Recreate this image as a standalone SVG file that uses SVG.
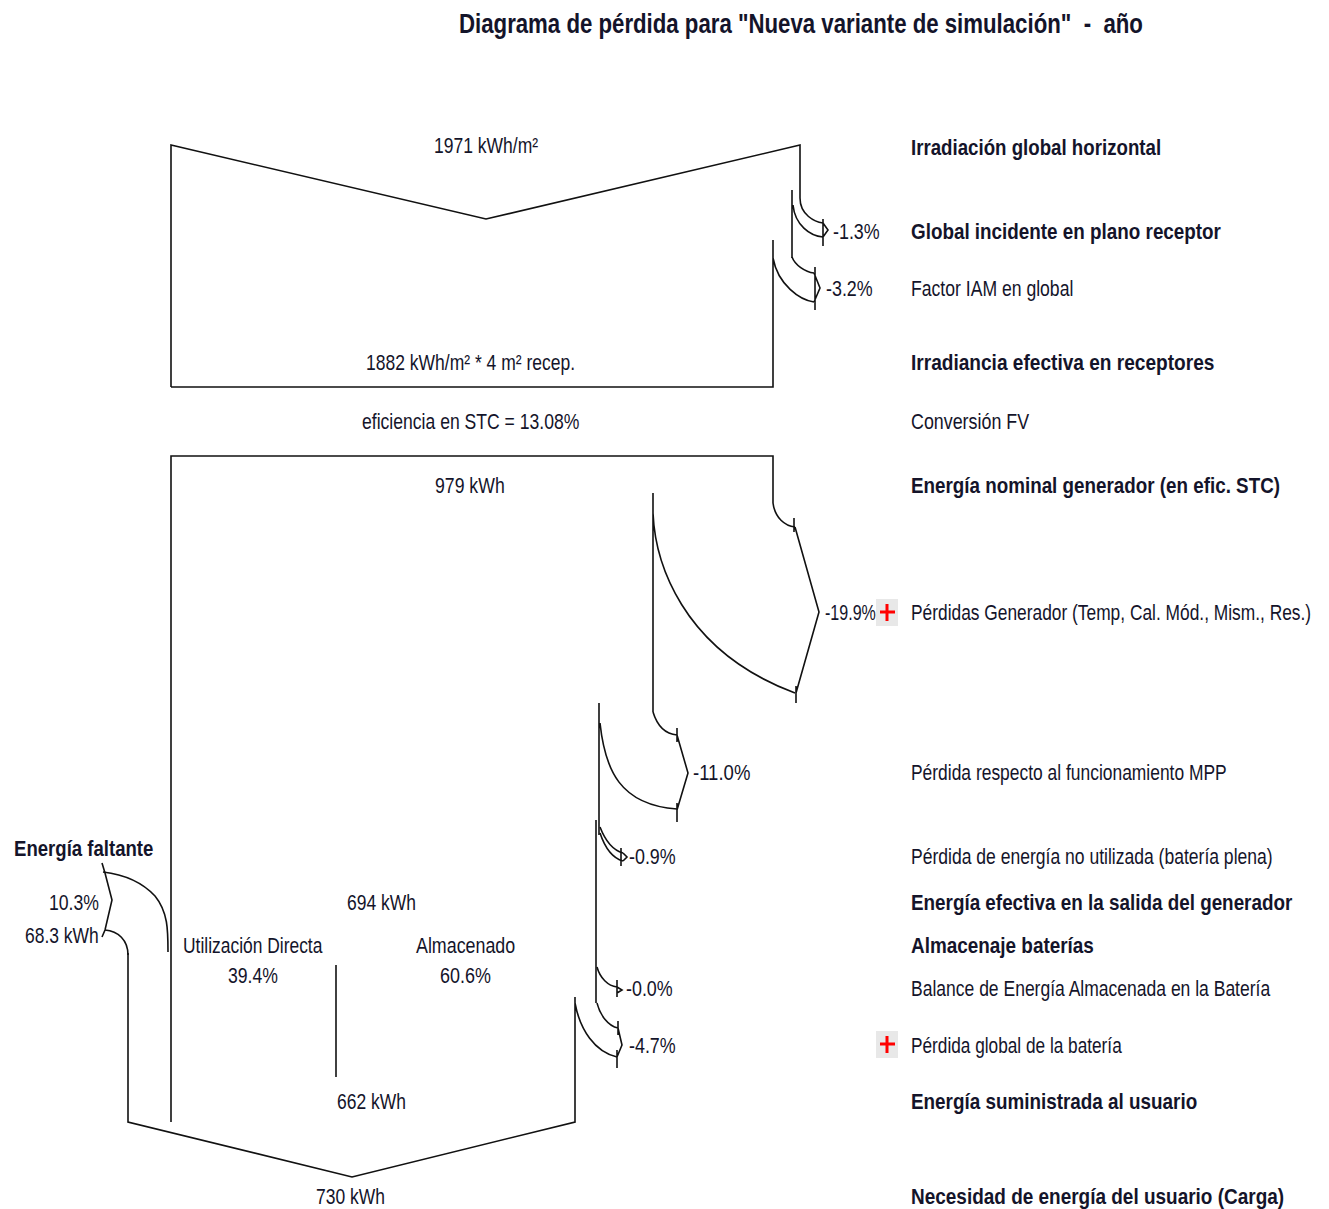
<svg xmlns="http://www.w3.org/2000/svg" width="1329" height="1209" viewBox="0 0 1329 1209">
<style>
text{font-family:"Liberation Sans",Arial,sans-serif;font-size:22px;fill:#14142a}
.b{font-weight:bold}
.t{font-weight:bold;font-size:28px}
.ln{fill:none;stroke:#111;stroke-width:1.6}
.plus{fill:#e8e8e8}
.pl{stroke:#f00;stroke-width:3}
</style>
<rect width="1329" height="1209" fill="#fff"/>
<g id="title">
<text class="t" transform="translate(459,33) scale(.82,1)" textLength="834" lengthAdjust="spacingAndGlyphs">Diagrama de pérdida para "Nueva variante de simulación"&#160;&#160;-&#160;&#160;año</text>
</g>
<g id="connectors">
<path class="ln" d="M171,387 V145 L486,219 L800,145 V198 C800,215 815,222 823,223"/>
<path class="ln" d="M792,190 V258 M793,205 C795,225 810,236 823,237"/>
<path class="ln" d="M823,219 V246 M823,223 L828,230 L823,237"/>
<path class="ln" d="M792,257 C795,265 805,272 814,273"/>
<path class="ln" d="M773,240 V387 H171 M773,258 C778,285 800,300 814,302"/>
<path class="ln" d="M815,267 V310 M814,273 L820,288 L814,302"/>
<path class="ln" d="M171,1122 V456 H773 V503 C775,518 785,526 795,527"/>
<path class="ln" d="M794,518 V532 M795,527 L819,612 L796,693 M796,686 V703"/>
<path class="ln" d="M653,493 V712 M653,513 C655,560 680,650 795,693"/>
<path class="ln" d="M653,712 C657,725 665,734 677,735 M677,728 V742 M677,735 L688,773 L677,810 M677,803 V822"/>
<path class="ln" d="M599,703 V835 M600,723 C605,770 620,805 677,809"/>
<path class="ln" d="M596,820 V1003 M600,827 C605,840 612,850 623,853 M600,833 C605,848 612,858 623,861"/>
<path class="ln" d="M621,848 V866 M623,853 L627,857 L623,861"/>
<path class="ln" d="M597,967 C600,978 608,986 617,987 M617,980 V997 M617,987 L622,990 L617,993"/>
<path class="ln" d="M597,1003 C600,1015 608,1026 618,1028 M618,1021 V1035 M618,1028 L622,1045 L617,1057 M617,1050 V1068"/>
<path class="ln" d="M575,997 V1122 L352,1177 L128,1122 V953 M575,1003 C580,1030 595,1052 617,1057"/>
<path class="ln" d="M103,872 C120,874 140,880 155,896 C168,912 168,930 168,952"/>
<path class="ln" d="M102,863 L105,873 L112,900 L105,930 L102,937"/>
<path class="ln" d="M105,930 C118,931 128,940 128,955"/>
<path class="ln" d="M336,965 V1077"/>
</g>
<g id="plus1"><rect class="plus" x="876" y="599" width="22" height="27"/><path class="pl" d="M880,612 H895 M887,604 V621"/></g>
<g id="plus2"><rect class="plus" x="876" y="1031" width="22" height="27"/><path class="pl" d="M880,1044 H895 M887,1036 V1053"/></g>
<g id="flow-labels">
<text transform="translate(434,153) scale(.82,1)" textLength="127" lengthAdjust="spacingAndGlyphs">1971 kWh/m²</text>
<text transform="translate(366,370) scale(.82,1)" textLength="255" lengthAdjust="spacingAndGlyphs">1882 kWh/m² * 4 m² recep.</text>
<text transform="translate(362,429) scale(.82,1)" textLength="265" lengthAdjust="spacingAndGlyphs">eficiencia en STC = 13.08%</text>
<text transform="translate(435,493) scale(.82,1)" textLength="85" lengthAdjust="spacingAndGlyphs">979 kWh</text>
<text transform="translate(347,910) scale(.82,1)" textLength="84" lengthAdjust="spacingAndGlyphs">694 kWh</text>
<text transform="translate(183,953) scale(.82,1)" textLength="170" lengthAdjust="spacingAndGlyphs">Utilización Directa</text>
<text transform="translate(228,983) scale(.82,1)" textLength="61" lengthAdjust="spacingAndGlyphs">39.4%</text>
<text transform="translate(416,953) scale(.82,1)" textLength="121" lengthAdjust="spacingAndGlyphs">Almacenado</text>
<text transform="translate(440,983) scale(.82,1)" textLength="62" lengthAdjust="spacingAndGlyphs">60.6%</text>
<text transform="translate(337,1109) scale(.82,1)" textLength="84" lengthAdjust="spacingAndGlyphs">662 kWh</text>
<text transform="translate(316,1204) scale(.82,1)" textLength="84" lengthAdjust="spacingAndGlyphs">730 kWh</text>
<text class="b" transform="translate(14,856) scale(.82,1)" textLength="170" lengthAdjust="spacingAndGlyphs">Energía faltante</text>
<text transform="translate(49,910) scale(.82,1)" textLength="61" lengthAdjust="spacingAndGlyphs">10.3%</text>
<text transform="translate(25,943) scale(.82,1)" textLength="90" lengthAdjust="spacingAndGlyphs">68.3 kWh</text>
<text transform="translate(833,239) scale(.82,1)" textLength="57" lengthAdjust="spacingAndGlyphs">-1.3%</text>
<text transform="translate(826,296) scale(.82,1)" textLength="57" lengthAdjust="spacingAndGlyphs">-3.2%</text>
<text transform="translate(825,620) scale(.82,1)" textLength="62" lengthAdjust="spacingAndGlyphs">-19.9%</text>
<text transform="translate(693,780) scale(.82,1)" textLength="70" lengthAdjust="spacingAndGlyphs">-11.0%</text>
<text transform="translate(629,864) scale(.82,1)" textLength="57" lengthAdjust="spacingAndGlyphs">-0.9%</text>
<text transform="translate(626,996) scale(.82,1)" textLength="57" lengthAdjust="spacingAndGlyphs">-0.0%</text>
<text transform="translate(629,1053) scale(.82,1)" textLength="57" lengthAdjust="spacingAndGlyphs">-4.7%</text>
</g>
<g id="step-labels">
<text class="b" transform="translate(911,155) scale(.82,1)" textLength="305" lengthAdjust="spacingAndGlyphs">Irradiación global horizontal</text>
<text class="b" transform="translate(911,239) scale(.82,1)" textLength="378" lengthAdjust="spacingAndGlyphs">Global incidente en plano receptor</text>
<text transform="translate(911,296) scale(.82,1)" textLength="198" lengthAdjust="spacingAndGlyphs">Factor IAM en global</text>
<text class="b" transform="translate(911,370) scale(.82,1)" textLength="370" lengthAdjust="spacingAndGlyphs">Irradiancia efectiva en receptores</text>
<text transform="translate(911,429) scale(.82,1)" textLength="144" lengthAdjust="spacingAndGlyphs">Conversión FV</text>
<text class="b" transform="translate(911,493) scale(.82,1)" textLength="450" lengthAdjust="spacingAndGlyphs">Energía nominal generador (en efic. STC)</text>
<text transform="translate(911,620) scale(.82,1)" textLength="488" lengthAdjust="spacingAndGlyphs">Pérdidas Generador (Temp, Cal. Mód., Mism., Res.)</text>
<text transform="translate(911,780) scale(.82,1)" textLength="385" lengthAdjust="spacingAndGlyphs">Pérdida respecto al funcionamiento MPP</text>
<text transform="translate(911,864) scale(.82,1)" textLength="441" lengthAdjust="spacingAndGlyphs">Pérdida de energía no utilizada (batería plena)</text>
<text class="b" transform="translate(911,910) scale(.82,1)" textLength="465" lengthAdjust="spacingAndGlyphs">Energía efectiva en la salida del generador</text>
<text class="b" transform="translate(911,953) scale(.82,1)" textLength="223" lengthAdjust="spacingAndGlyphs">Almacenaje baterías</text>
<text transform="translate(911,996) scale(.82,1)" textLength="438" lengthAdjust="spacingAndGlyphs">Balance de Energía Almacenada en la Batería</text>
<text transform="translate(911,1053) scale(.82,1)" textLength="257" lengthAdjust="spacingAndGlyphs">Pérdida global de la batería</text>
<text class="b" transform="translate(911,1109) scale(.82,1)" textLength="349" lengthAdjust="spacingAndGlyphs">Energía suministrada al usuario</text>
<text class="b" transform="translate(911,1204) scale(.82,1)" textLength="455" lengthAdjust="spacingAndGlyphs">Necesidad de energía del usuario (Carga)</text>
</g>
</svg>
